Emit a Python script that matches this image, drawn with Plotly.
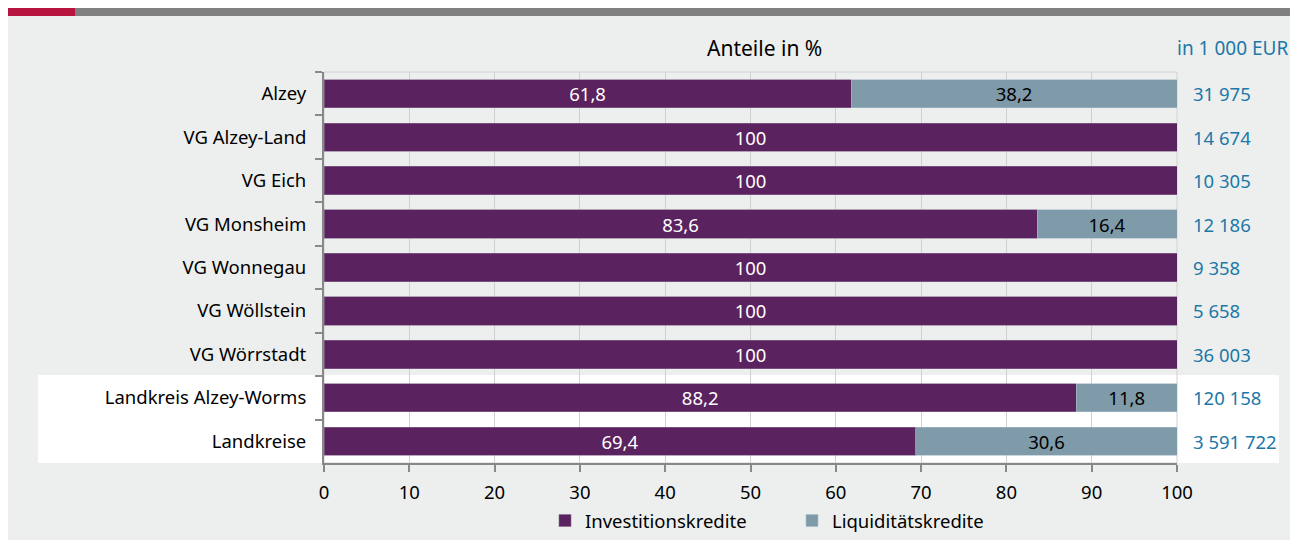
import plotly.graph_objects as go

categories = ["Alzey", "VG Alzey-Land", "VG Eich", "VG Monsheim", "VG Wonnegau",
              "VG Wöllstein", "VG Wörrstadt", "Landkreis Alzey-Worms", "Landkreise"]
invest = [61.8, 100, 100, 83.6, 100, 100, 100, 88.2, 69.4]
liquid = [38.2, None, None, 16.4, None, None, None, 11.8, 30.6]
totals = ["31 975", "14 674", "10 305", "12 186", "9 358",
          "5 658", "36 003", "120 158", "3 591 722"]

PURPLE = "#5b2260"
GREYBLUE = "#7f9aa8"
BLUE = "#1b78a8"
FONT = "Noto Sans"
FS = 18.5

# the page body adds 8px, so the figure is drawn 8px right/down
OFF = 8
W, H = 1298 - OFF, 540 - OFF
L, R, T, B = 324 - OFF, 1177 - OFF, 72 - OFF, 463 - OFF


def px(x):
    # screen pixel -> paper fraction
    return (x - OFF - L) / (R - L)


def py(y):
    return (B - (y - OFF)) / (B - T)


def fmt(v):
    if v is None:
        return ""
    if v == int(v):
        return str(int(v))
    return f"{v:.1f}".replace(".", ",")


fig = go.Figure()
fig.add_trace(go.Bar(
    y=categories, x=invest, orientation="h", name="Investitionskredite",
    marker=dict(color=PURPLE, line=dict(color="#8c6c91", width=0.6)),
    text=[fmt(v) for v in invest], textposition="inside", insidetextanchor="middle",
    textfont=dict(color="white", size=FS, family=FONT), textangle=0,
    constraintext="none", hoverinfo="skip",
))
fig.add_trace(go.Bar(
    y=categories, x=liquid, orientation="h", name="Liquiditätskredite",
    marker=dict(color=GREYBLUE, line=dict(color="#a9bcc6", width=0.6)),
    text=[fmt(v) for v in liquid], textposition="inside", insidetextanchor="middle",
    textfont=dict(color="black", size=FS, family=FONT), textangle=0,
    constraintext="none", hoverinfo="skip",
))

# totals column on the right
for c, t in zip(categories, totals):
    fig.add_annotation(x=px(1191), xref="paper", y=c, yref="y", text=t, showarrow=False,
                       xanchor="left", yanchor="middle",
                       font=dict(color=BLUE, size=FS, family=FONT))

fig.add_annotation(x=px(764), xref="paper", y=py(48), yref="paper", text="Anteile in %",
                   showarrow=False, xanchor="center", yanchor="middle",
                   font=dict(color="black", size=21, family=FONT))
fig.add_annotation(x=px(1290), y=py(48), text="in 1 000 EUR", showarrow=False,
                   xref="paper", yref="paper", xanchor="right", yanchor="middle",
                   font=dict(color=BLUE, size=19, family=FONT))

shapes = [
    dict(type="rect", xref="paper", yref="paper", x0=px(7), x1=px(1292), y0=py(545), y1=py(16),
         fillcolor="#edefee", line_width=0, layer="below"),
    dict(type="rect", xref="paper", yref="paper", x0=px(7), x1=px(75), y0=py(16), y1=py(0),
         fillcolor="#b71540", line_width=0, layer="below"),
    dict(type="rect", xref="paper", yref="paper", x0=px(75), x1=px(1292), y0=py(16), y1=py(0),
         fillcolor="#808080", line_width=0, layer="below"),
    dict(type="rect", xref="paper", yref="paper", x0=px(38), x1=px(1279), y0=py(463), y1=py(375),
         fillcolor="white", line_width=0, layer="below"),
    dict(type="rect", xref="paper", yref="paper", x0=0, x1=1, y0=0, y1=1,
         fillcolor="rgba(0,0,0,0)", line=dict(color="#d0d0d0", width=1), layer="below"),
]

fig.update_layout(
    width=W, height=H,
    margin=dict(l=L, r=W - R, t=T, b=H - B, pad=0, autoexpand=False),
    paper_bgcolor="white", plot_bgcolor="rgba(0,0,0,0)",
    barmode="stack", bargap=0.35,
    font=dict(family=FONT, size=FS, color="black"),
    shapes=shapes,
    showlegend=True,
    legend=dict(orientation="h", x=px(545), xanchor="left", y=py(521), yanchor="middle",
                font=dict(size=FS, family=FONT), bgcolor="rgba(0,0,0,0)",
                traceorder="normal", itemwidth=30, entrywidth=202),
    xaxis=dict(range=[0, 100], dtick=10, tick0=0, showgrid=True, gridcolor="#d0d0d0",
               gridwidth=1, zeroline=False, showline=True, linecolor="#888888", linewidth=2,
               ticks="outside", ticklen=7, tickcolor="#888888", tickwidth=1.5,
               ticklabelstandoff=5,
               tickfont=dict(size=FS, family=FONT), fixedrange=True),
    yaxis=dict(categoryorder="array", categoryarray=categories, autorange="reversed",
               showgrid=False, zeroline=False, showline=True, linecolor="#888888", linewidth=2,
               ticks="outside", ticklen=7, tickcolor="#888888", tickwidth=1.5,
               tickson="boundaries", ticklabelstandoff=12,
               tickfont=dict(size=FS, family=FONT)),
)

fig.write_html("out.html")
